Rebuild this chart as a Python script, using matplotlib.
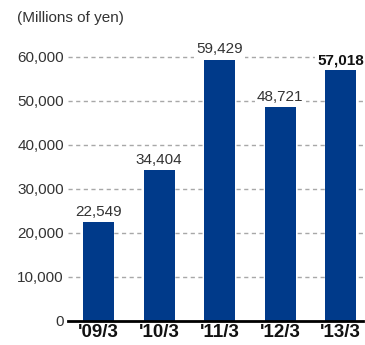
import matplotlib
matplotlib.use("Agg")
import matplotlib.pyplot as plt

periods = ["'09/3", "'10/3", "'11/3", "'12/3", "'13/3"]
values = [22549, 34404, 59429, 48721, 57018]
yticks = [0, 10000, 20000, 30000, 40000, 50000, 60000]

plt.rcParams['font.family'] = ['Liberation Sans', 'DejaVu Sans']

fig = plt.figure(figsize=(3.65, 3.45), dpi=100)
ax = fig.add_axes([68/365, 24/345, 295/365, 264/345])

x = range(len(values))
ax.bar(x, values, width=0.51, color="#003a8a", zorder=2)

# value labels sit on a white box so the dashed grid breaks around them
for i, v in enumerate(values):
    last = i == len(values) - 1
    ax.text(i, v + 700, "{:,}".format(v), ha="center", va="bottom",
            fontsize=11, color="#111111" if last else "#333333",
            fontweight="bold" if last else "normal", clip_on=False, zorder=4,
            bbox=dict(boxstyle="square,pad=0.15", fc="white", ec="none"))

ax.set_ylim(0, 60000)
ax.set_xlim(-0.505, 4.37)
ax.set_yticks(yticks)
ax.set_yticklabels(["{:,}".format(t) for t in yticks], fontsize=11, color="#333333")
ax.set_xticks(list(x))
ax.set_xticklabels(periods, fontsize=13.5, fontweight="bold", color="#111111")
ax.tick_params(axis="y", length=0, pad=3)
ax.tick_params(axis="x", length=0, pad=2)

for t in yticks[1:]:
    ax.axhline(t, color="#a8a8a8", lw=1, ls=(0, (3, 2.5)), zorder=1, clip_on=False)

for s in ["top", "right", "left"]:
    ax.spines[s].set_visible(False)
ax.spines["bottom"].set_linewidth(2)
ax.spines["bottom"].set_color("black")
ax.spines["bottom"].set_zorder(3)

fig.text(17/365, 1 - 11/345, "(Millions of yen)", fontsize=11, color="#333333",
         ha="left", va="top")

fig.savefig("out.png", dpi=100)
